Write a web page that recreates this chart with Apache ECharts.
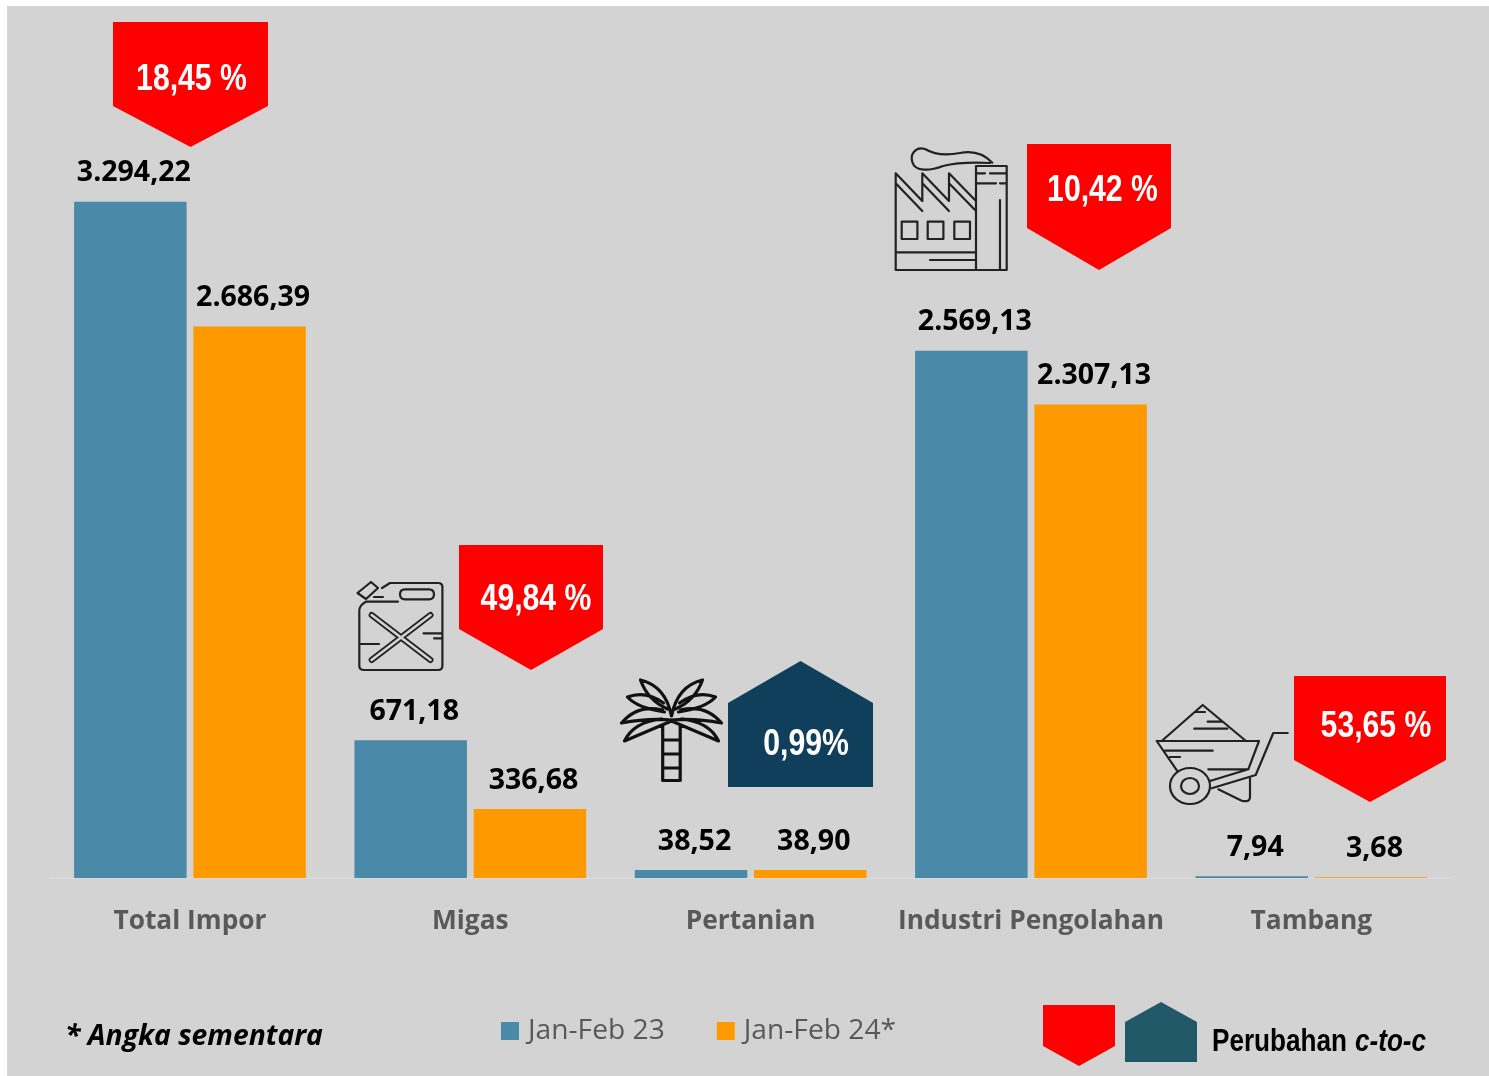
<!DOCTYPE html>
<html><head><meta charset="utf-8">
<style>html,body{margin:0;padding:0;background:#fff;overflow:hidden}#c{position:absolute;left:0;top:0;width:1489px;height:1076px}</style>
<script src="https://cdn.jsdelivr.net/npm/echarts@6/dist/echarts.min.js"></script>
</head><body><div id="c"></div>
<script>
const categories = ['Total Impor','Migas','Pertanian','Industri Pengolahan','Tambang'];
const seriesNames = ['Jan-Feb 23','Jan-Feb 24*'];
const values23 = [3294.22,671.18,38.52,2569.13,7.94];
const values24 = [2686.39,336.68,38.90,2307.13,3.68];
const changes = ['18,45 %','49,84 %','0,99%','10,42 %','53,65 %'];
const changeDir = ['down','down','up','down','down'];

const BG='#d3d3d3', BLUE='#4a89a8', ORANGE='#ff9900', RED='#ff0000', NAVY='#0f3f5a', TEAL='#215968', INK='#222';
const NARROW='"Liberation Sans",sans-serif';
const SANS='"Open Sans",sans-serif';
const NARROW_SCALE=0.816;
const fmt = v => { const [a,b]=v.toFixed(2).split('.'); return a.replace(/\B(?=(\d{3})+$)/g,'.')+','+b; };

// callout boxes: [left,right,topOrTip,shoulder,bottomOrTip,textX,textY]
const boxes = [
 [113,268,22,106,147,191.5,80],
 [459,603,545,629,670,536,600],
 [728,873,661,703,787,806,745],
 [1027,1171,144,228,270,1102.5,191],
 [1294,1446,676,760,802,1376,727]
];
function pent(l,r,t,s,b,dir){
  const m=(l+r)/2;
  return dir==='down'?[[l,t],[r,t],[r,s],[m,b],[l,s]]:[[m,t],[r,s],[r,b],[l,b],[l,s]];
}
function palmPath(){
  const cx=671.5; let d='';
  [1,-1].forEach(s=>{
    const X=v=>cx+s*v;
    // upper leaf
    d+=`M${X(0)} 716Q${X(-6)} 686 ${X(-31)} 680Q${X(-24)} 700 ${X(-4)} 709`;
    // second leaf
    d+=`M${X(-8)} 703Q${X(-26)} 690 ${X(-44)} 697Q${X(-34)} 708 ${X(-7)} 712`;
    // third leaf
    d+=`M${X(-9)} 710Q${X(-34)} 704 ${X(-50)} 723Q${X(-24)} 718 ${X(0)} 720`;
    // lowest leaf
    d+=`M${X(-10)} 719Q${X(-38)} 722 ${X(-47)} 741L${X(0)} 721`;
  });
  d+='M662.7 726V780.5H680.2V726M662.7 740H680.2M662.7 754H680.2M662.7 768H680.2';
  return d;
}
const iconThin = [
 // jerry can
 'M382 588L390 583H438Q442.4 583 442.4 587V666Q442.4 670 438 670H364Q359.3 670 359.3 666V611Q359.3 605 366 601.7H398M374 597H383M357.5 593L371 582L378 588L366 599ZM405 589.3H429Q434 589.3 434 594.3Q434 599.3 429 599.3H405Q400 599.3 400 594.3Q400 589.3 405 589.3ZM423.5 633.3H441.7M434 638.3H441.7M360 644H379',
 // factory
 'M895.7 173.3V270H1006.7V166H976V270M895.7 173.3L922.3 201V173.3L949 201V173.3L976 201M895.7 183.3L922.3 211M922.3 183.3L949 211M949 183.3L976 211M901.7 221.7h15.7v17.3h-15.7zM927.7 221.7h15.7v17.3h-15.7zM954.3 221.7h15.7v17.3h-15.7zM895.7 252.3H976M930 260H976M976 173.3H985M990 173.3H1006.7M976 183.3H996M1000 183.3H1006.7M1000 200V270M992.3 162.7C985 155 975 150 960 153C945 156 935 155 925 149C915 146 910 155 912.3 162C915 172 930 171 943 166C955 163 970 162 990 163',
 // wheelbarrow
 'M1156.7 741H1259M1161.7 741L1202.7 705L1246 741M1195 712H1205M1207.7 721.7H1221.7M1194.3 728.7H1227.3M1156.7 741L1177.7 771.7M1259 741L1248.3 769.3M1165 750.7H1212.7M1170 757H1180M1208.3 769.3H1248.3M1287.7 733H1273.3L1255.7 775L1211.7 788.3M1248.3 769.3L1210 781M1218.3 789.3L1241.7 800.7Q1250 802.7 1250 796.7V778'
];
const xLines = [[371.6,615,430.5,660],[430.5,615,371.6,660]];

function decor(){
  const ch=[];
  const path=(d,stroke,w)=>ch.push({type:'path',shape:{pathData:d},style:{fill:'none',stroke:stroke,lineWidth:w,lineCap:'round',lineJoin:'round'}});
  const poly=(pts,fill)=>ch.push({type:'polygon',shape:{points:pts},style:{fill:fill}});
  const text=(t,x,y,font,fill,align,sx)=>ch.push({type:'text',x:x,y:y,scaleX:sx||1,style:{text:t,font:font,fill:fill,align:align||'center',verticalAlign:'middle'}});
  boxes.forEach((b,i)=>{
    const up=changeDir[i]==='up';
    poly(pent(b[0],b[1],b[2],b[3],b[4],changeDir[i]),up?NAVY:RED);
    text(changes[i],b[5],b[6],`bold 37px ${NARROW}`,'#fff','center',NARROW_SCALE);
  });
  iconThin.forEach(d=>path(d,INK,2.2));
  xLines.forEach(l=>ch.push({type:'line',shape:{x1:l[0],y1:l[1],x2:l[2],y2:l[3]},style:{stroke:INK,lineWidth:6,lineCap:'round'}}));
  xLines.forEach(l=>ch.push({type:'line',shape:{x1:l[0],y1:l[1],x2:l[2],y2:l[3]},style:{stroke:BG,lineWidth:2.6,lineCap:'round'}}));
  path(palmPath(),'#111',3.2);
  [[1190,786,20,18],[1190,786,9,8]].forEach(e=>ch.push({type:'ellipse',shape:{cx:e[0],cy:e[1],rx:e[2],ry:e[3]},style:{fill:'none',stroke:INK,lineWidth:2.2}}));
  poly(pent(1043,1115,1005,1046,1066,'down'),RED);
  poly(pent(1125,1197,1002,1022,1062,'up'),TEAL);
  text('* Angka sementara',65,1037,`italic bold 28.3px ${SANS}`,'#000','left');
  text('Perubahan',1212,1042,`bold 32px ${NARROW}`,'#000','left',NARROW_SCALE);
  text('c-to-c',1355,1042,`italic bold 32px ${NARROW}`,'#000','left',NARROW_SCALE);
  return {type:'group',children:ch};
}

const labelCfg={show:true,position:'top',distance:14,offset:[3.5,0],color:'#000',fontFamily:SANS,fontWeight:'bold',fontSize:28.5,formatter:p=>fmt(p.value)};
const chart=echarts.init(document.getElementById('c'),null,{renderer:'canvas'});
chart.setOption({
  backgroundColor:'#fff',animation:false,
  graphic:[{type:'rect',z:-10,silent:true,shape:{x:7,y:6,width:1482,height:1070},style:{fill:BG}}],
  grid:{left:49.8,right:37.5,top:57,bottom:198,containLabel:false},
  legend:{left:501,top:1017,padding:0,data:seriesNames,icon:'rect',itemWidth:18,itemHeight:18,itemGap:52,
    textStyle:{color:'#595959',fontFamily:SANS,fontSize:28.2,padding:[0,0,0,4]}},
  xAxis:{type:'category',data:categories,axisTick:{show:false},
    axisLine:{lineStyle:{color:'#dcdcdc',width:1.5}},
    axisLabel:{color:'#595959',fontFamily:SANS,fontWeight:'bold',fontSize:26.3,margin:31,interval:0}},
  yAxis:{type:'value',min:0,max:4000,show:false,splitLine:{show:false}},
  series:[
    {name:seriesNames[0],type:'bar',data:values23,barWidth:112.5,barGap:'6%',itemStyle:{color:BLUE},label:labelCfg},
    {name:seriesNames[1],type:'bar',data:values24,barWidth:112.5,barGap:'6%',itemStyle:{color:ORANGE},label:labelCfg},
    {name:'decor',type:'custom',silent:true,clip:false,z:5,data:[[0,0]],encode:{x:0,y:1},renderItem:decor}
  ]
});
</script></body></html>
